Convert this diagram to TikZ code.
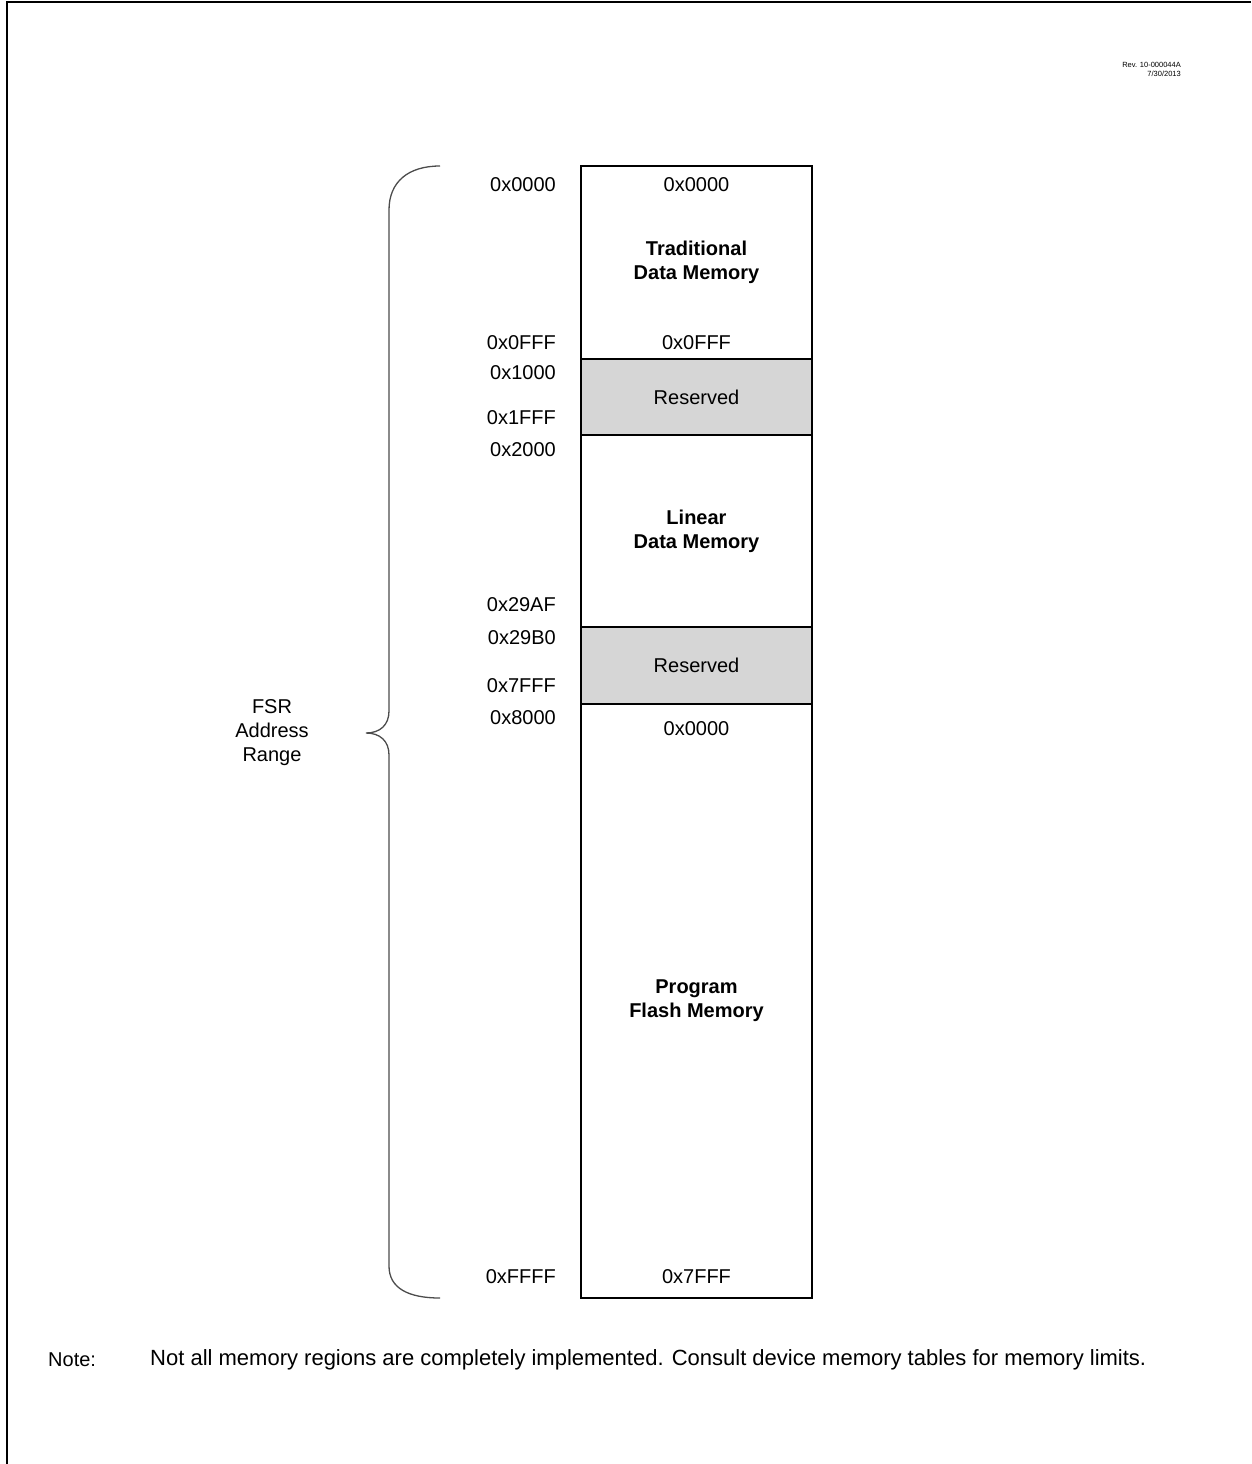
\documentclass[tikz,border=0pt]{standalone}
\usepackage{fontspec}
\setmainfont{Liberation Sans}
\begin{document}
\begin{tikzpicture}[x=1pt,y=-1pt,
  region/.style={draw=black, line width=1.3pt, minimum width=231pt, inner sep=0pt, align=center, font=\fontsize{20}{24}\selectfont},
  resv/.style={region, fill=black!16},
  addr/.style={font=\fontsize{20}{24}\selectfont, inner sep=0pt},
  laddr/.style={addr, anchor=east},
  title/.style={font=\bfseries\fontsize{20}{24}\selectfont, align=center, inner sep=0pt},
  bracestyle/.style={draw=black!70, line width=1.3pt}
]
\useasboundingbox (0,0) rectangle (1251,1464);
% frame
\draw[line width=2.2pt] (7,1464) -- (7,2) -- (1251,2);

% revision stamp
\node[font=\fontsize{7.5}{9}\selectfont, align=right, inner sep=0pt, anchor=north east] (rev) at (1181,62) {Rev. 10-000044A\\7/30/2013};

% memory regions
\node[region, minimum height=193pt] (trad) at (696.5,262.5) {};
\node[resv, minimum height=76pt] (res1) at (696.5,397) {Reserved};
\node[region, minimum height=192pt] (lin) at (696.5,531) {};
\node[resv, minimum height=77pt] (res2) at (696.5,665.5) {Reserved};
\node[region, minimum height=594pt] (prog) at (696.5,1001) {};

\node[title] (tradt) at (trad.center) {Traditional\\Data Memory};
\node[title] (lint) at (lin.center) {Linear\\Data Memory};
\node[title] (progt) at (prog.center) {Program\\Flash Memory};

% inner addresses
\node[addr] (i0) at (696.5,185) {0x0000};
\node[addr] (i1) at (696.5,343) {0x0FFF};
\node[addr] (i2) at (696.5,729) {0x0000};
\node[addr] (i3) at (696.5,1277) {0x7FFF};

% left addresses
\node[laddr] (a0) at (556,185) {0x0000};
\node[laddr] (a1) at (556,343) {0x0FFF};
\node[laddr] (a2) at (556,373) {0x1000};
\node[laddr] (a3) at (556,418) {0x1FFF};
\node[laddr] (a4) at (556,450) {0x2000};
\node[laddr] (a5) at (556,605) {0x29AF};
\node[laddr] (a6) at (556,638) {0x29B0};
\node[laddr] (a7) at (556,686) {0x7FFF};
\node[laddr] (a8) at (556,718) {0x8000};
\node[laddr] (a9) at (556,1277) {0xFFFF};

% brace
\coordinate (btop) at (440,166);
\coordinate (btip) at (366,733);
\coordinate (bbot) at (440,1298);
\draw[bracestyle] (btop) .. controls (408,166) and (389,182) .. (389,210)
  -- (389,711) .. controls (389,725) and (380,733) .. (btip)
  .. controls (380,733) and (389,741) .. (389,755)
  -- (389,1266) .. controls (389,1288) and (408,1298) .. (bbot);

\node[addr, align=center] (fsr) at (272,733) {FSR\\Address\\Range};

% note
\node[addr, anchor=west] (notel) at (48,1360) {Note:};
\node[addr, anchor=west, font=\fontsize{22}{26}\selectfont] (notet) at (150,1360) {Not all memory regions are completely implemented. Consult device memory tables for memory limits.};
\end{tikzpicture}
\end{document}
